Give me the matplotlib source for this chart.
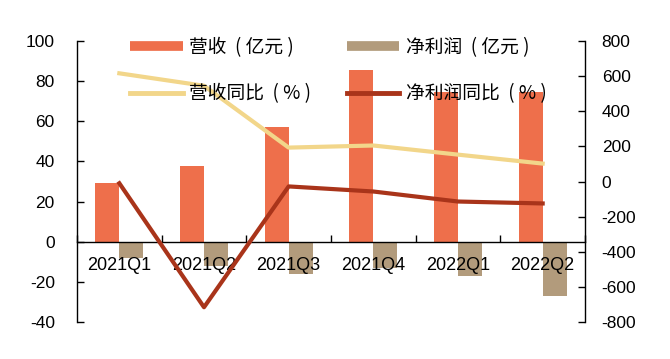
import matplotlib
matplotlib.use("Agg")
import matplotlib.pyplot as plt
from matplotlib.lines import Line2D
import numpy as np

plt.rcParams['font.family'] = ['Liberation Sans', 'Noto Sans CJK SC']
plt.rcParams['axes.unicode_minus'] = False

quarters = ['2021Q1', '2021Q2', '2021Q3', '2021Q4', '2022Q1', '2022Q2']
revenue = [29.5, 37.6, 57.2, 85.6, 74.5, 74.4]
net_profit = [-7.9, -12.0, -16.0, -12.9, -17.0, -27.0]
revenue_yoy = [616, 545, 193, 205, 153, 102]
profit_yoy = [-10, -716, -28, -57, -114, -125]

c_rev = '#EE6F4B'
c_np = '#B29B7C'
c_ryoy = '#F2D68A'
c_pyoy = '#A9341A'

fig = plt.figure(figsize=(6.70, 3.59), dpi=100)
ax = fig.add_axes([77/670, 1-322/359, (585-77)/670, (322-41)/359])
x = np.arange(len(quarters))
w = 0.285
ax.bar(x - w/2, revenue, w, color=c_rev, zorder=1)
ax.bar(x + w/2, net_profit, w, color=c_np, zorder=1)
ax.set_xlim(-0.5, len(quarters) - 0.5)
ax.set_ylim(-40, 100)
ax.set_yticks(np.arange(-40, 101, 20))
ax.spines['top'].set_visible(False)
ax.spines['right'].set_visible(False)
ax.spines['bottom'].set_position(('data', 0))
ax.spines['bottom'].set_linewidth(1.0)
ax.spines['left'].set_linewidth(1.0)
ax.set_xticks(x)
ax.set_xticklabels(quarters, fontsize=13)
ax.set_xticks(np.arange(-0.5, len(quarters), 1.0), minor=True)
ax.tick_params(axis='x', which='major', length=0, pad=11)
ax.tick_params(axis='x', which='minor', direction='in', length=5, width=1)
ax.tick_params(axis='y', direction='in', length=5, width=1, labelsize=12.5, pad=16)

ax2 = ax.twinx()
ax2.plot(x, revenue_yoy, color=c_ryoy, lw=3)
ax2.plot(x, profit_yoy, color=c_pyoy, lw=3)
ax2.set_ylim(-800, 800)
ax2.set_yticks(np.arange(-800, 801, 200))
for s in ['top', 'left', 'bottom']:
    ax2.spines[s].set_visible(False)
ax2.spines['right'].set_linewidth(1.0)
ax2.tick_params(axis='y', direction='in', length=5, width=1, labelsize=12.5, pad=12)

handles = [
    Line2D([], [], color=c_rev, lw=7, solid_capstyle='butt'),
    Line2D([], [], color=c_ryoy, lw=3.5),
    Line2D([], [], color=c_np, lw=7, solid_capstyle='butt'),
    Line2D([], [], color=c_pyoy, lw=3.5),
]
labels = ['营收  ( 亿元 )', '营收同比  ( % )', '净利润  ( 亿元 )', '净利润同比  ( % )']
leg = ax2.legend(handles, labels, ncol=2, frameon=False,
                 prop={'family': ['Noto Sans CJK SC'], 'size': 13.5},
                 loc='upper left', bbox_to_anchor=(130/670, 1-37/359),
                 bbox_transform=fig.transFigure, borderpad=0, borderaxespad=0,
                 handlelength=2.8, handletextpad=0.35, columnspacing=1.9,
                 labelspacing=1.35)

fig.savefig('out.png', dpi=100)
